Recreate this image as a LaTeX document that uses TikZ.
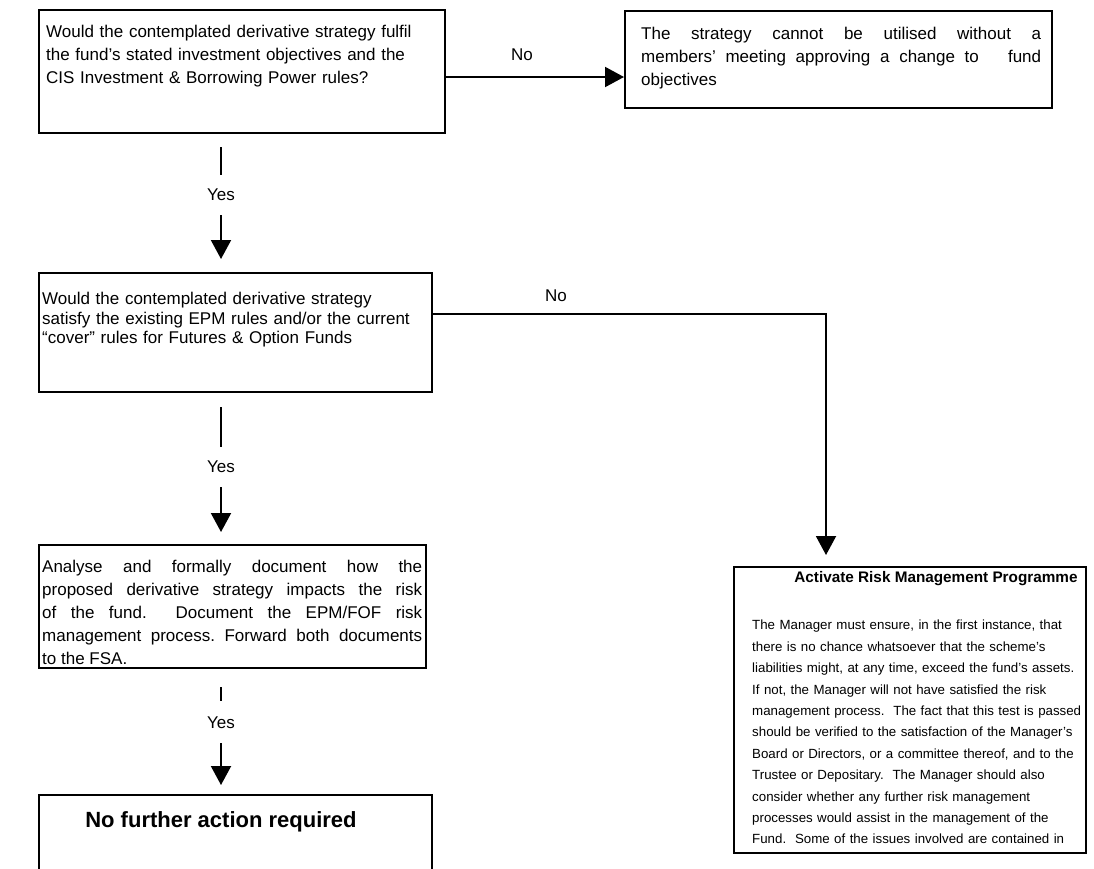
\documentclass[tikz,border=0pt]{standalone}
\usepackage{fontspec}
\setmainfont{Liberation Sans}
\usetikzlibrary{arrows.meta,calc}
\frenchspacing
\begin{document}
\begin{tikzpicture}[x=1pt,y=-1pt,
  box/.style={draw, line width=2pt, inner sep=0pt, anchor=north west},
  txt/.style={inner sep=0pt, anchor=north west, align=left, font=\fontsize{17}{23}\selectfont},
  jtxt/.style={inner sep=0pt, anchor=north west, align=justify, font=\fontsize{17}{23}\selectfont},
  lbl/.style={fill=white, inner xsep=3pt, inner ysep=14pt, font=\fontsize{17}{20}\selectfont},
  lab/.style={inner sep=0pt, font=\fontsize{17}{20}\selectfont},
  arr/.style={line width=2pt, -{Triangle[length=19pt,width=20pt]}}]
\useasboundingbox (0,0) rectangle (1094,868);
\clip (0,0) rectangle (1094,868);

% boxes
\node[box, minimum width=406pt, minimum height=123pt] (b1) at (38,9) {};
\node[box, minimum width=427pt, minimum height=97pt] (b2) at (624,10) {};
\node[box, minimum width=393pt, minimum height=119pt] (b3) at (38,272) {};
\node[box, minimum width=387pt, minimum height=123pt] (b5) at (38,544) {};
\node[box, minimum width=393pt, minimum height=110pt] (b7) at (38,794) {};
\node[box, minimum width=352pt, minimum height=286pt] (b4) at (733,566) {};

% texts
\node[txt, text width=395pt] (t1) at (46,25) {Would the contemplated derivative strategy fulfil\\the fund’s stated investment objectives and the\\CIS Investment \& Borrowing Power rules?};
\node[jtxt, text width=400pt] (t2) at (641,27) {The strategy cannot be utilised without a\linebreak members’ meeting approving a change to\ \ \ fund\linebreak objectives};
\node[txt, text width=385pt, font=\fontsize{17}{19.5}\selectfont] (t3) at (42,292) {Would the contemplated derivative strategy\\satisfy the existing EPM rules and/or the current\\“cover” rules for Futures \& Option Funds};
\node[jtxt, text width=380pt] (t5) at (42,560) {Analyse and formally document how the\linebreak proposed derivative strategy impacts the risk\linebreak of the fund.\ \ Document the EPM/FOF risk\linebreak management process. Forward both documents\linebreak to the FSA.};
\node[inner sep=0pt, font=\bfseries\fontsize{22}{26}\selectfont] (t7) at (221,822) {No further action required};
\node[inner sep=0pt, font=\bfseries\fontsize{15.3}{18}\selectfont] (t4a) at (936,579) {Activate Risk Management Programme};
\node[txt, text width=335pt, font=\fontsize{13.3}{21.4}\selectfont] (t4b) at (752,620) {The Manager must ensure, in the first instance, that\\there is no chance whatsoever that the scheme’s\\liabilities might, at any time, exceed the fund’s assets.\\If not, the Manager will not have satisfied the risk\\management process.\ \ The fact that this test is passed\\should be verified to the satisfaction of the Manager’s\\Board or Directors, or a committee thereof, and to the\\Trustee or Depositary.\ \ The Manager should also\\consider whether any further risk management\\processes would assist in the management of the\\Fund.\ \ Some of the issues involved are contained in};

% connectors
\coordinate (cx) at (221,0);
\coordinate (r1) at (0,77);
\coordinate (r2) at (826,314);
\draw[arr] (b1.east |- r1) -- (b2.west |- r1);
\node[lab] (no1) at (522,55) {No};
\draw[arr] (b3.east |- r2) -- (r2) -- ($(b4.north -| r2)+(0,-11)$);
\node[lab] (no2) at (556,296) {No};
\draw[arr] ($(b1.south -| cx)+(0,13)$) -- node[lbl,pos=0.43]{Yes} ($(b3.north -| cx)+(0,-13)$);
\draw[arr] ($(b3.south -| cx)+(0,14)$) -- node[lbl,pos=0.48]{Yes} ($(b5.north -| cx)+(0,-12)$);
\draw[arr] ($(b5.south -| cx)+(0,18)$) -- node[lbl,pos=0.36,inner ysep=15pt]{Yes} ($(b7.north -| cx)+(0,-9)$);
\end{tikzpicture}
\end{document}
